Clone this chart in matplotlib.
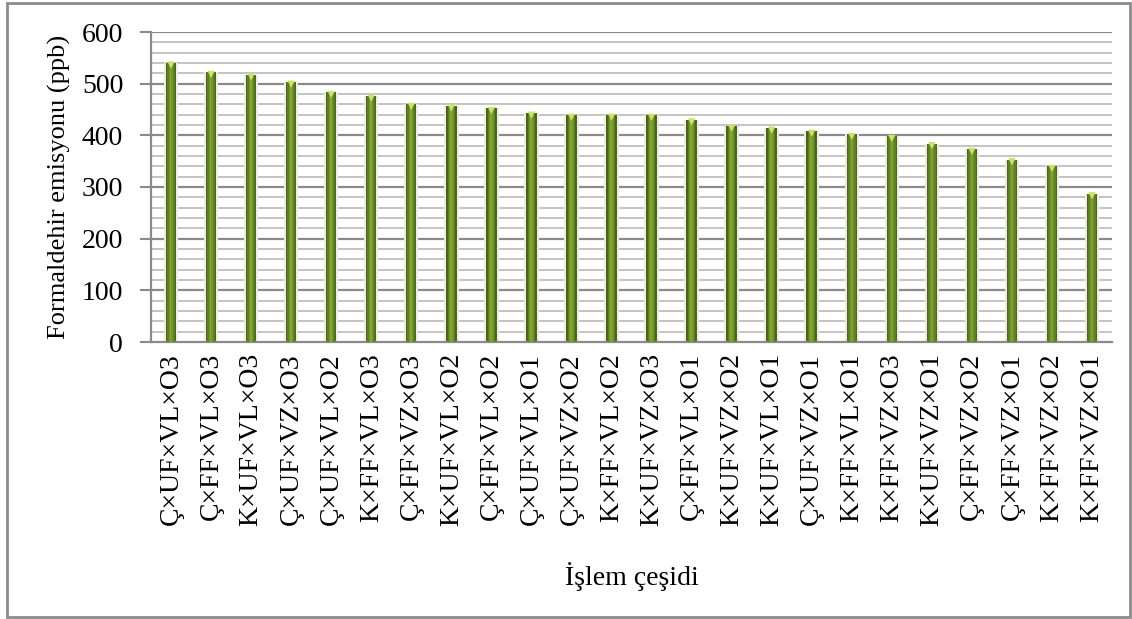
import matplotlib
matplotlib.use('Agg')
import matplotlib.pyplot as plt
import numpy as np
from matplotlib.patches import Rectangle

# data
treatments = ['Ç×UF×VL×O3', 'Ç×FF×VL×O3', 'K×UF×VL×O3', 'Ç×UF×VZ×O3',
              'Ç×UF×VL×O2', 'K×FF×VL×O3', 'Ç×FF×VZ×O3', 'K×UF×VL×O2',
              'Ç×FF×VL×O2', 'Ç×UF×VL×O1', 'Ç×UF×VZ×O2', 'K×FF×VL×O2',
              'K×UF×VZ×O3', 'Ç×FF×VL×O1', 'K×UF×VZ×O2', 'K×UF×VL×O1',
              'Ç×UF×VZ×O1', 'K×FF×VL×O1', 'K×FF×VZ×O3', 'K×UF×VZ×O1',
              'Ç×FF×VZ×O2', 'Ç×FF×VZ×O1', 'K×FF×VZ×O2', 'K×FF×VZ×O1']
emission = [540, 522, 517, 503, 483, 476, 460, 457, 452, 443, 439, 439,
            439, 430, 418, 414, 408, 402, 398, 384, 373, 353, 340, 287]

plt.rcParams['font.family'] = ['Liberation Serif', 'DejaVu Serif']

fig = plt.figure(figsize=(11.32, 6.19), dpi=100)
ax = fig.add_axes([151 / 1132, 1 - 342 / 619, 961 / 1132, 310 / 619])

# outer frame
fig.patches.append(Rectangle((7 / 1132, 2 / 619), 1123 / 1132, 614 / 619,
                             transform=fig.transFigure, fill=False,
                             edgecolor='#8c8c8c', linewidth=2))

x = np.arange(len(treatments))

# grid
for v in range(20, 601, 20):
    major = v % 100 == 0
    ax.axhline(v, color='#8a8a8a' if major else '#c4c4c4',
               lw=1.6 if major else 1.4, zorder=0)

# cylinder-like bars: shadow, dark body, lighter core, highlight
ax.bar(x, emission, width=0.36, color='#ececec', zorder=1)
ax.bar(x, emission, width=0.26, color='#4a6516', zorder=2)
ax.bar(x, emission, width=0.19, color='#5f7f1e', zorder=3)
ax.bar(x, emission, width=0.11, color='#739629', zorder=4)
ax.bar(x - 0.01, emission, width=0.04, color='#83a636', zorder=5)
ax.scatter(x, np.array(emission) - 4, marker='v', s=28, color='#c9e36e',
           edgecolors='none', zorder=6)

ax.set_xlim(-0.5, len(treatments) - 0.5)
ax.set_ylim(0, 600)
ax.set_yticks(range(0, 601, 100))
ax.set_xticks(x)
ax.set_xticklabels(treatments, rotation=90, fontsize=20)
ax.tick_params(axis='y', labelsize=20, length=8, width=1.5, color='#8a8a8a',
               pad=12)
ax.tick_params(axis='x', length=0, pad=8)

for s in ['top', 'right']:
    ax.spines[s].set_visible(False)
for s in ['left', 'bottom']:
    ax.spines[s].set_color('#8a8a8a')
    ax.spines[s].set_linewidth(1.6)

ax.set_ylabel('Formaldehir emisyonu (ppb)', fontsize=19, labelpad=8)
ax.set_xlabel('İşlem çeşidi', fontsize=20, labelpad=26)

fig.savefig('out.png', dpi=100)
